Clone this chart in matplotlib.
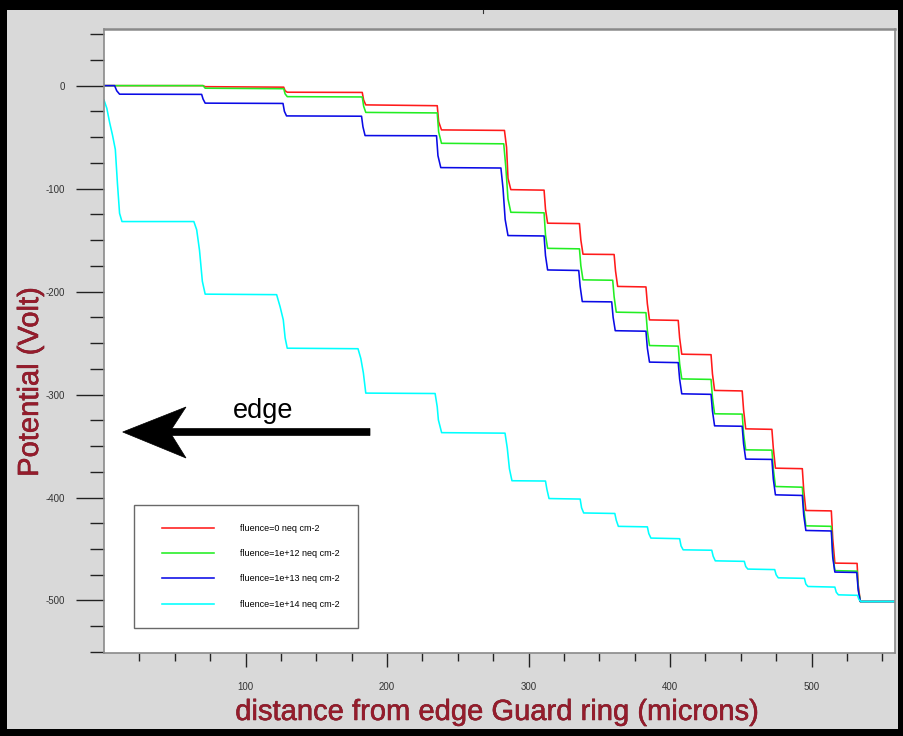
import matplotlib
matplotlib.use("Agg")
import matplotlib.pyplot as plt
import matplotlib.patheffects as pe
from matplotlib.patches import Rectangle, Polygon
from matplotlib.lines import Line2D
from matplotlib.legend_handler import HandlerLine2D
from matplotlib.transforms import IdentityTransform
from matplotlib.ticker import FixedLocator

plt.rcParams['font.family'] = ['Liberation Sans', 'DejaVu Sans']

# ---------------- data ----------------
labels = ["fluence=0 neq cm-2", "fluence=1e+12 neq cm-2",
          "fluence=1e+13 neq cm-2", "fluence=1e+14 neq cm-2"]
colors = ['#ff1a1a', '#22ee22', '#0a0ae6', '#00ffff']

red_x = [0, 70, 71.5, 127, 128, 129.5, 182.5, 183.5, 185, 235.5, 236.5, 238.5,
         283, 284.5, 285.5, 287.5, 311, 312, 313.5, 336, 337, 338.5, 360.5, 361.5, 363,
         383, 384, 385.5, 405.8, 406.8, 408.3, 429, 430, 431.5, 451, 452, 453.5,
         472, 473, 474.5, 493.5, 494.5, 496, 514, 515, 516.5, 532.2, 533, 534.5, 560]
red_y = [0, 0, -1, -1.5, -5, -6.4, -6.6, -14, -18.7, -19.5, -35, -43,
         -43.5, -60, -90, -101, -101.5, -120, -133.6, -134, -150, -163.7, -164, -180, -195,
         -195.5, -212, -227.5, -228, -245, -260.8, -261.3, -280, -296, -296.5, -315, -333.3,
         -333.8, -352, -371.5, -372, -393, -412.6, -413, -440, -463.7, -464, -485, -501, -501]

green_x = [0, 70, 71.5, 127, 128, 129.5, 182.5, 183.5, 185, 235.5, 236.5, 238.5,
           282.5, 284, 285.5, 287.5, 311, 312, 313.5, 336, 337, 338.5, 359.5, 360.5, 362,
           383, 384, 385.5, 405.8, 406.8, 408.3, 429, 430, 431.5, 451, 452, 453.5,
           472, 473, 474.5, 493.5, 494.5, 496, 514, 515, 516.5, 532.2, 533, 534.5, 560]
green_y = [0, 0, -2.5, -3, -8, -10.7, -11, -20, -26, -26.5, -45, -56,
           -56.5, -80, -110, -123, -123.5, -145, -158, -158.5, -175, -188.6, -189, -205, -220,
           -220.5, -238, -252.4, -253, -270, -284.8, -285.3, -303, -318.7, -319, -338, -353.7,
           -354, -372, -389.3, -390, -410, -427.5, -428, -455, -471, -471.5, -488, -501, -501]

blue_x = [0, 7.5, 9, 11, 69, 70, 71.5, 126.5, 127.5, 129, 182, 183, 184.5,
          235, 236, 238, 280.5, 282, 283.5, 285.5, 311, 312, 313.5, 335.5, 336.5, 338,
          358.8, 359.8, 361.3, 383, 384, 385.5, 405.8, 406.8, 408.3, 429, 430, 431.5,
          451, 452, 453.5, 472, 473, 474.5, 493.5, 494.5, 496, 514, 515, 516.5,
          532, 533, 534.5, 560]
blue_y = [0, 0, -5, -8.3, -8.5, -13, -17, -17.3, -25, -29.4, -29.7, -40, -48.5,
          -48.7, -68, -79.6, -80, -100, -130, -145.6, -146, -165, -179, -179.5, -195, -209.7,
          -210, -225, -238, -238.5, -255, -268.5, -269, -285, -299.3, -299.8, -316, -330.4,
          -330.8, -348, -362.7, -363, -382, -397.4, -398, -417, -432, -432.5, -458, -472.4,
          -472.8, -490, -501, -501]

cyan_x = [0, 2, 4, 6, 8, 9.5, 11, 12.7, 63.5, 65.5, 67.5, 69.5, 71.5,
          122, 124.5, 126.7, 128, 129.5, 179.5, 181.5, 183.3, 185,
          234, 235.5, 236.3, 238.6, 283.4, 285, 286.5, 288.3, 312, 313, 314.5,
          336.5, 337.5, 339, 361, 362, 363.5, 384, 385, 386.5, 406.8, 407.8, 409.3,
          429.5, 430.5, 432, 452.5, 453.5, 455, 474, 475, 476.5, 495, 496, 497.5,
          516.5, 517.5, 519, 532.5, 533.5, 535, 560]
cyan_y = [-14, -22, -36, -48, -62, -95, -124, -132, -132, -140, -160, -190, -202.5,
          -203, -215, -227.5, -245, -255, -255.5, -265, -279, -298.6,
          -299, -312, -324.6, -337, -337.5, -352, -372, -383.7, -384, -392, -401,
          -401.5, -410, -415, -415.5, -422, -428, -428.5, -435, -439.4, -440, -447, -450.8,
          -451.2, -457, -461.5, -462, -467, -469.5, -470, -475, -478, -478.5, -484, -486.4,
          -487, -492, -494.5, -495, -499, -501, -501]

series_x = [red_x, green_x, blue_x, cyan_x]
series_y = [red_y, green_y, blue_y, cyan_y]

x_major = [100, 200, 300, 400, 500]
x_minor = [25, 50, 75, 125, 150, 175, 225, 250, 275, 325, 350, 375,
           425, 450, 475, 525, 550]
y_major = [0, -100, -200, -300, -400, -500]
y_minor = [50, 25, -25, -50, -75, -125, -150, -175, -225, -250, -275,
           -325, -350, -375, -425, -450, -475, -525, -550]

# ---------------- figure ----------------
W, H = 904, 736
fig = plt.figure(figsize=(W / 100, H / 100), dpi=100, facecolor='black')

def fx(x):
    return x / W

def fy(y):
    return 1 - y / H

# gray panel inside the black border
fig.add_artist(Rectangle((fx(7), fy(729)), fx(898) - fx(7), fy(10) - fy(729),
                         transform=fig.transFigure, facecolor='#d9d9d9',
                         edgecolor='none', zorder=0))
fig.add_artist(Line2D([fx(483), fx(483)], [fy(10), fy(13)], transform=fig.transFigure,
                      color='#333333', lw=0.8))

ax = fig.add_axes([fx(104), fy(653), fx(895) - fx(104), fy(29) - fy(653)])
ax.set_facecolor('white')

for xs, ys, c, lab in zip(series_x, series_y, colors, labels):
    ax.plot(xs, ys, color=c, lw=1.15, label=lab, solid_joinstyle='round')

ax.set_xlim(0, 559)
ax.set_ylim(-551, 55)

ax.xaxis.set_major_locator(FixedLocator(x_major))
ax.xaxis.set_minor_locator(FixedLocator(x_minor))
ax.yaxis.set_major_locator(FixedLocator(y_major))
ax.yaxis.set_minor_locator(FixedLocator(y_minor))
ax.set_xticklabels([str(v) for v in x_major])
ax.set_yticklabels([str(v) for v in y_major])

ax.tick_params(axis='x', which='major', direction='out', length=10, width=1.0,
               color='#222222', pad=11, labelsize=7, labelcolor='#333333')
ax.tick_params(axis='x', which='minor', direction='out', length=6, width=1.0,
               color='#222222')
ax.tick_params(axis='y', which='major', direction='out', length=20, width=1.0,
               color='#222222', pad=8, labelsize=7, labelcolor='#333333')
ax.tick_params(axis='y', which='minor', direction='out', length=10, width=1.0,
               color='#222222')

for s in ax.spines.values():
    s.set_color('#8a8a8a')
    s.set_linewidth(1.2)
ax.spines['top'].set_linewidth(1.8)

# legend
leg = ax.legend(loc='upper left', bbox_to_anchor=(fx(134), fy(505)),
                bbox_transform=fig.transFigure, borderaxespad=0,
                fontsize=6.5, handlelength=6.75, handletextpad=2.85,
                labelspacing=1.8, borderpad=2.1, frameon=True, fancybox=False,
                handler_map={Line2D: HandlerLine2D(xpad=1.0)})
leg.get_frame().set_edgecolor('#444444')
leg.get_frame().set_linewidth(1.0)

# axis titles
lab_col = '#961c2c'
stroke = [pe.withStroke(linewidth=0.35, foreground='#5a0a14')]
fig.text(fx(497), fy(712), 'distance from edge Guard ring (microns)', color=lab_col,
         fontsize=21, ha='center', va='center', path_effects=stroke)
fig.text(fx(30), fy(382), 'Potential (Volt)', color=lab_col, fontsize=21,
         rotation=90, ha='center', va='center', path_effects=stroke)

# "edge" arrow annotation (figure pixel coordinates, origin bottom-left)
tip_y = H - 432
arrow_pts = [(122.7, tip_y), (186, H - 407), (172, tip_y + 3.5), (370, tip_y + 3.5),
             (370, tip_y - 3.5), (172, tip_y - 3.5), (186, H - 458)]
fig.add_artist(Polygon(arrow_pts, closed=True, transform=IdentityTransform(),
                       facecolor='black', edgecolor='black', lw=0.5, zorder=5))
fig.text(fx(263), fy(411), 'edge', fontsize=19.5, ha='center', va='center', color='black')

fig.savefig('out.png', dpi=100, facecolor=fig.get_facecolor())
